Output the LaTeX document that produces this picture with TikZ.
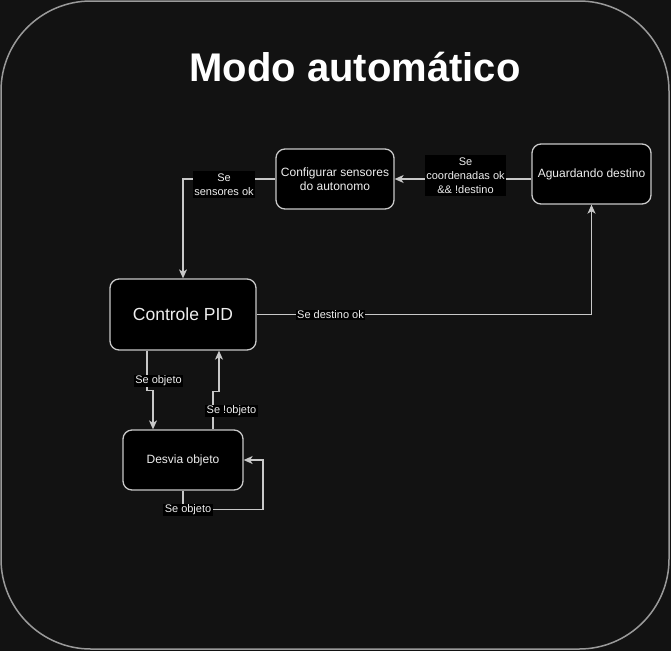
\documentclass[tikz,border=0pt]{standalone}
\usepackage{fontspec}
\setmainfont{Liberation Sans}
\usetikzlibrary{arrows.meta,calc}
\definecolor{bgc}{HTML}{121212}
\definecolor{outer}{HTML}{9A9A9A}
\definecolor{edgec}{HTML}{C8C8C8}
\definecolor{txt}{HTML}{EEEEEE}
\tikzset{
  statebox/.style={draw=edgec, fill=black, rounded corners=9pt, line width=1.3pt,
    text=txt, align=center, inner sep=0pt, font=\fontsize{12}{14}\selectfont},
  conn/.style={draw=edgec, line width=1.2pt, -{Stealth[length=9pt,width=8pt,inset=2.5pt]}},
  lbl/.style={fill=black, text=txt, inner xsep=1.5pt, inner ysep=2.5pt, align=center,
    font=\fontsize{11}{14}\selectfont},
}
\begin{document}
\begin{tikzpicture}[x=1pt,y=-1pt]
\useasboundingbox (0,0) rectangle (671,651);
\fill[bgc] (0,0) rectangle (671,651);
\draw[outer, line width=1.5pt, rounded corners=90pt, fill=bgc] (1,1) rectangle (669,649);
\node[text=white, font=\bfseries\fontsize{40}{48}\selectfont] (title) at (355,67) {Modo automático};

\node[statebox, minimum width=118pt, minimum height=60pt] (config) at (335,179) {Configurar sensores\\do autonomo};
\node[statebox, minimum width=119pt, minimum height=60pt] (aguard) at (591.5,174) {Aguardando destino};
\node[statebox, minimum width=146pt, minimum height=71pt, font=\fontsize{17.5}{20}\selectfont] (pid) at (183,314.5) {Controle PID};
\node[statebox, minimum width=120pt, minimum height=60pt] (desvia) at (183,460) {Desvia objeto};

\draw[conn] (aguard.west |- config.east) -- (config.east);
\draw[conn] (config.west) -| (pid.north);
\draw[conn] (pid.east) -| (aguard.south);
\draw[conn] ([xshift=-36pt]pid.south) -- ++(0,40) -| ([xshift=-30pt]desvia.north);
\draw[conn] ([xshift=30pt]desvia.north) -- ++(0,-38) -| ([xshift=36pt]pid.south);
\draw[conn] (desvia.south) -- ++(0,19) -- ++(80,0) |- (desvia.east);

\node[lbl] (l1) at (465.5,175.5) {Se\\coordenadas ok\\\&\& !destino};
\node[lbl] (l2) at (224,184.5) {Se\\sensores ok};
\node[lbl, inner ysep=1pt] (l3) at (330.5,315) {Se destino ok};
\node[lbl, inner ysep=1pt] (l4) at (158.5,381) {Se objeto};
\node[lbl, inner ysep=1pt] (l5) at (231.5,411) {Se !objeto};
\node[lbl, inner ysep=1pt] (l6) at (188,510) {Se objeto};
\end{tikzpicture}
\end{document}
